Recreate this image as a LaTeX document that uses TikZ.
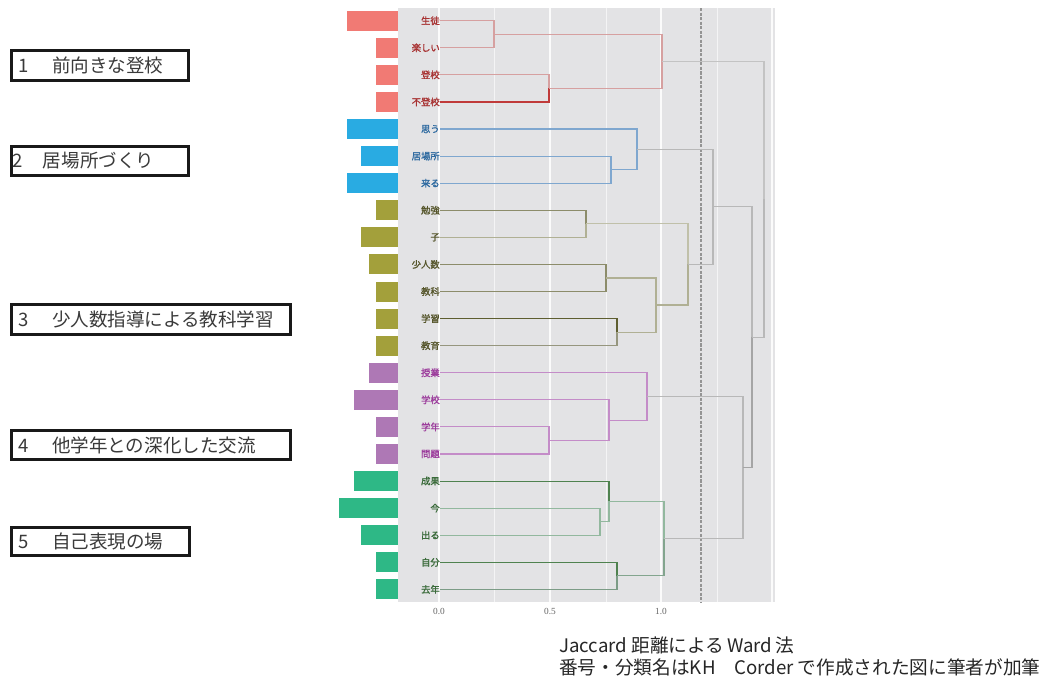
\documentclass[tikz,border=0pt]{standalone}
\usepackage{fontspec}
\newfontfamily\jp{Noto Sans CJK JP}
\newfontfamily\jpb[FakeBold=1.3]{Noto Sans CJK JP}
\newfontfamily\axf{Liberation Serif}
\definecolor{barc1}{HTML}{F17A74}
\definecolor{barc2}{HTML}{29ABE2}
\definecolor{barc3}{HTML}{A3A03B}
\definecolor{barc4}{HTML}{AE78B5}
\definecolor{barc5}{HTML}{2EB886}
\definecolor{labc1}{HTML}{A83232}
\definecolor{labc2}{HTML}{2E6AA0}
\definecolor{labc3}{HTML}{55552A}
\definecolor{labc4}{HTML}{9C3C9C}
\definecolor{labc5}{HTML}{3A6B3A}
\definecolor{panelc}{HTML}{E3E3E5}
\definecolor{pk}{HTML}{D6A0A0}
\definecolor{pkd}{HTML}{C03A3A}
\definecolor{bl}{HTML}{7FA7CF}
\definecolor{ol}{HTML}{B0B094}
\definecolor{old}{HTML}{8C8C6A}
\definecolor{oldd}{HTML}{5E5E30}
\definecolor{pu}{HTML}{C48CC8}
\definecolor{gr}{HTML}{92B89E}
\definecolor{grd}{HTML}{4F824F}
\definecolor{gy}{HTML}{B8B8B8}
\definecolor{boxtext}{HTML}{3A3A3A}
\tikzset{
  leaf/.style={anchor=east, inner sep=0pt, font=\jpb\fontsize{7}{8}\selectfont},
  br/.style={line width=0.85pt},
  catbox/.style={draw=black!90, line width=2.25pt, inner sep=0pt, align=left,
    font=\jp\fontsize{13.9}{15}\selectfont, text=boxtext},
  axlab/.style={inner sep=0pt, font=\axf\fontsize{7}{8}\selectfont, text=black!60},
  capt/.style={inner sep=0pt, align=left, font=\jp\fontsize{14}{16.5}\selectfont, text=black!85}
}
\begin{document}
\begin{tikzpicture}[x=0.75pt,y=-0.75pt]
\useasboundingbox (0,0) rectangle (1055,682);
\fill[white] (0,0) rectangle (1055,682);
% panel
\fill[panelc] (398,8) rectangle (775,602);
\foreach \gx in {439,550,661,772} \draw[white!85!panelc, line width=0.8pt] (\gx,8) -- (\gx,602);
\foreach \gx in {494,606,717} \draw[white!60!panelc, line width=0.6pt] (\gx,8) -- (\gx,602);
\draw[black!42, line width=1.1pt, dash pattern=on 2.3pt off 1.1pt] (701,8) -- (701,602);
% axis labels
\node[axlab] (ax0) at (439,611) {0.0};
\node[axlab] (ax1) at (550,611) {0.5};
\node[axlab] (ax2) at (661,611) {1.0};
% leaves and bars
\foreach \ii/\tx/\cl/\bx in {0/生徒/c1/347, 1/楽しい/c1/376, 2/登校/c1/376, 3/不登校/c1/376,
  4/思う/c2/347, 5/居場所/c2/361, 6/来る/c2/347,
  7/勉強/c3/376, 8/子/c3/361, 9/少人数/c3/369, 10/教科/c3/376, 11/学習/c3/376, 12/教育/c3/376,
  13/授業/c4/369, 14/学校/c4/354, 15/学年/c4/376, 16/問題/c4/376,
  17/成果/c5/354, 18/今/c5/339, 19/出る/c5/361, 20/自分/c5/376, 21/去年/c5/376} {
  \pgfmathsetmacro\yy{20.7+27.08*\ii}
  \fill[bar\cl] (\bx,\yy-10) rectangle (398,\yy+10);
  \node[leaf, text=lab\cl] (n\ii) at (440,\yy) {\tx};
}
% merge points
\coordinate (m1) at (494,34.2);
\coordinate (m2) at (549,88.4);
\coordinate (m3) at (662,61.3);
\coordinate (m4) at (611,169.6);
\coordinate (m5) at (637,149.3);
\coordinate (m6) at (586,223.8);
\coordinate (m7) at (606,278.0);
\coordinate (m8) at (617,332.1);
\coordinate (m9) at (656,305.0);
\coordinate (m10) at (688,264.4);
\coordinate (m11) at (713,206.9);
\coordinate (m12) at (549,440.4);
\coordinate (m13) at (609,420.1);
\coordinate (m14) at (647,396.4);
\coordinate (m15) at (600,521.6);
\coordinate (m16) at (609,501.3);
\coordinate (m17) at (617,575.8);
\coordinate (m18) at (664,538.6);
\coordinate (m19) at (743,467.5);
\coordinate (m20) at (752,337.2);
\coordinate (m21) at (764,199.2);
% cluster 1
\draw[br, pk] (n0.east) -| (m1);
\draw[br, pk] (n1.east) -| (m1);
\draw[br, pk] (n2.east) -| (m2);
\draw[br, pkd] (n3.east) -| (m2);
\draw[br, pk] (m1) -| (m3);
\draw[br, pk] (m2) -| (m3);
% cluster 2
\draw[br, bl] (n5.east) -| (m4);
\draw[br, bl] (n6.east) -| (m4);
\draw[br, bl] (n4.east) -| (m5);
\draw[br, bl] (m4) -| (m5);
% cluster 3
\draw[br, old] (n7.east) -| (m6);
\draw[br, ol] (n8.east) -| (m6);
\draw[br, old] (n9.east) -| (m7);
\draw[br, old] (n10.east) -| (m7);
\draw[br, oldd] (n11.east) -| (m8);
\draw[br, ol!85!black] (n12.east) -| (m8);
\draw[br, ol] (m7) -| (m9);
\draw[br, ol] (m8) -| (m9);
\draw[br, ol!80!white] (m6) -| (m10);
\draw[br, ol] (m9) -| (m10);
% cluster 4
\draw[br, pu] (n15.east) -| (m12);
\draw[br, pu] (n16.east) -| (m12);
\draw[br, pu] (n14.east) -| (m13);
\draw[br, pu] (m12) -| (m13);
\draw[br, pu] (n13.east) -| (m14);
\draw[br, pu] (m13) -| (m14);
% cluster 5
\draw[br, gr] (n18.east) -| (m15);
\draw[br, gr] (n19.east) -| (m15);
\draw[br, grd] (n17.east) -| (m16);
\draw[br, gr] (m15) -| (m16);
\draw[br, grd] (n20.east) -| (m17);
\draw[br, gr!85!black] (n21.east) -| (m17);
\draw[br, gr] (m16) -| (m18);
\draw[br, gr!90!black] (m17) -| (m18);
% upper levels
\draw[br, gy] (m5) -| (m11);
\draw[br, gy] (m10) -| (m11);
\draw[br, gy] (m14) -| (m19);
\draw[br, gy] (m18) -| (m19);
\draw[br, gy] (m11) -| (m20);
\draw[br, gy!90!black] (m19) -| (m20);
\draw[br, gy!85!white] (m3) -| (m21);
\draw[br, gy] (m20) -| (m21);
% category boxes
\node[catbox, minimum width=132.75pt, minimum height=22.5pt, text width=132.75pt] (b1) at (100,65.5)
  {\hspace*{4.9pt}\makebox[25.5pt][l]{1}前向きな登校};
\node[catbox, minimum width=132.75pt, minimum height=21.75pt, text width=132.75pt] (b2) at (100,161)
  {\hspace*{1.1pt}\makebox[22.5pt][l]{2}居場所づくり};
\node[catbox, minimum width=209.25pt, minimum height=22.5pt, text width=209.25pt] (b3) at (151,319.5)
  {\hspace*{4.9pt}\makebox[25.5pt][l]{3}少人数指導による教科学習};
\node[catbox, minimum width=209.25pt, minimum height=21.75pt, text width=209.25pt] (b4) at (151,445)
  {\hspace*{4.9pt}\makebox[25.5pt][l]{4}他学年との深化した交流};
\node[catbox, minimum width=133.5pt, minimum height=21pt, text width=133.5pt] (b5) at (100.5,541.5)
  {\hspace*{4.9pt}\makebox[25.5pt][l]{5}自己表現の場};
% caption
\node[capt, anchor=north west] (cap) at (559,637)
  {Jaccard 距離による\,Ward\,法\\番号・分類名はKH　Corder で作成された図に筆者が加筆};
\end{tikzpicture}
\end{document}
